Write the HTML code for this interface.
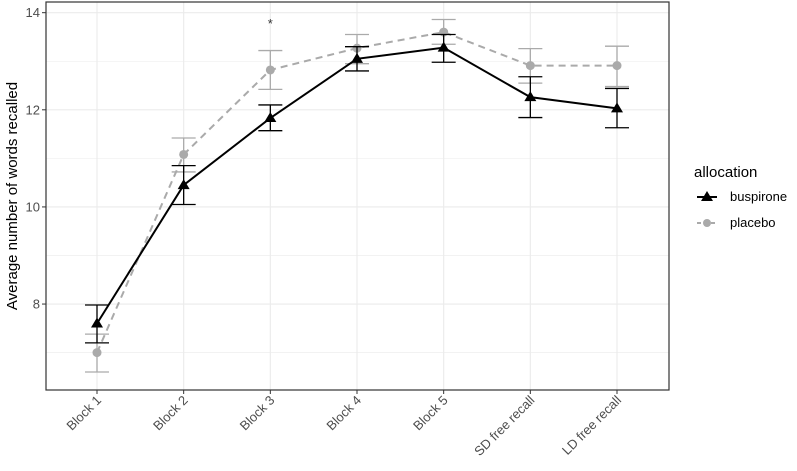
<!DOCTYPE html>
<html><head><meta charset="utf-8"><style>
body{margin:0;background:#fff;font-family:"Liberation Sans",sans-serif}
</style></head><body>
<svg id="chart" width="797" height="466" viewBox="0 0 797 466" xmlns="http://www.w3.org/2000/svg" font-family="Liberation Sans, sans-serif"></svg>
<script>
const categories=["Block 1","Block 2","Block 3","Block 4","Block 5","SD free recall","LD free recall"];
const yTicks=[8,10,12,14];
const buspMean=[7.6,10.45,11.83,13.05,13.28,12.26,12.03];
const buspLo=[7.2,10.05,11.57,12.8,12.98,11.84,11.63];
const buspHi=[7.98,10.85,12.1,13.3,13.55,12.68,12.44];
const placMean=[7.0,11.08,12.82,13.27,13.6,12.91,12.91];
const placLo=[6.6,10.72,12.42,12.95,13.35,12.55,12.48];
const placHi=[7.38,11.42,13.22,13.55,13.86,13.26,13.31];
const sigMarks=["","","*","","","",""];
const svg=document.getElementById('chart');const NS="http://www.w3.org/2000/svg";
const L=46,R=669,T=2,B=390,ymin=6.23,ymax=14.22;
const x=i=>97+i*(617-97)/(categories.length-1);
const y=v=>B-(v-ymin)/(ymax-ymin)*(B-T);
function mk(t,a,p){const e=document.createElementNS(NS,t);for(const k in a)e.setAttribute(k,a[k]);(p||svg).appendChild(e);return e;}
const grid=mk('g',{});
for(let v=7;v<=14;v+=1){mk('line',{x1:L,x2:R,y1:y(v),y2:y(v),stroke:'#ebebeb','stroke-width':v%2==0?1.1:0.6},grid);}
categories.forEach((c,i)=>mk('line',{x1:x(i),x2:x(i),y1:T,y2:B,stroke:'#ebebeb','stroke-width':1.1},grid));
const frame=mk('rect',{x:L,y:T,width:R-L,height:B-T,fill:'none',stroke:'#333','stroke-width':1.2});

yTicks.forEach(v=>{mk('line',{x1:L-4,x2:L,y1:y(v),y2:y(v),stroke:'#333'});
const t=mk('text',{x:L-6,y:y(v)+4.5,'text-anchor':'end','font-size':13,fill:'#4d4d4d'});t.textContent=v;
});
categories.forEach((c,i)=>{mk('line',{x1:x(i),x2:x(i),y1:B,y2:B+4,stroke:'#333'});
const t=mk('text',{transform:`translate(${x(i)+5},${B+11}) rotate(-45)`,'text-anchor':'end','font-size':13,fill:'#4d4d4d'});t.textContent=c;

if(sigMarks[i]){const s=mk('text',{x:x(i),y:28,'text-anchor':'middle','font-size':13,fill:'#333'});s.textContent=sigMarks[i];
}});
const yt=mk('text',{transform:`translate(17,${(T+B)/2}) rotate(-90)`,'text-anchor':'middle','font-size':15,fill:'#000'});yt.textContent='Average number of words recalled';

function series(name,m,lo,hi,col,dash,tri){const g=mk('g',{});
m.forEach((v,i)=>{mk('line',{x1:x(i),x2:x(i),y1:y(lo[i]),y2:y(hi[i]),stroke:col,'stroke-width':1.3},g);
[lo[i],hi[i]].forEach(w=>mk('line',{x1:x(i)-12,x2:x(i)+12,y1:y(w),y2:y(w),stroke:col,'stroke-width':1.3},g));});
mk('polyline',{points:m.map((v,i)=>x(i)+','+y(v)).join(' '),fill:'none',stroke:col,'stroke-width':2,'stroke-dasharray':dash},g);
m.forEach((v,i)=>{if(tri)mk('polygon',{points:`${x(i)},${y(v)-6} ${x(i)-6},${y(v)+4} ${x(i)+6},${y(v)+4}`,fill:col},g);
else mk('circle',{cx:x(i),cy:y(v),r:4.5,fill:col},g);});}
series('placebo',placMean,placLo,placHi,'#aaaaaa','7,5',false);
series('buspirone',buspMean,buspLo,buspHi,'#000','',true);
const lg=mk('g',{});
const lt=mk('text',{x:694,y:177,'font-size':15,fill:'#000'},lg);lt.textContent='allocation';
mk('line',{x1:697,x2:717,y1:197,y2:197,stroke:'#000','stroke-width':2},lg);
mk('polygon',{points:'707,191 701,201 713,201',fill:'#000'},lg);
const l1=mk('text',{x:730,y:201,'font-size':13,fill:'#000'},lg);l1.textContent='buspirone';

mk('line',{x1:697,x2:717,y1:223,y2:223,stroke:'#aaa','stroke-width':2,'stroke-dasharray':'4,3'},lg);
mk('circle',{cx:707,cy:223,r:4,fill:'#aaa'},lg);
const l2=mk('text',{x:730,y:227,'font-size':13,fill:'#000'},lg);l2.textContent='placebo';

</script></body></html>
